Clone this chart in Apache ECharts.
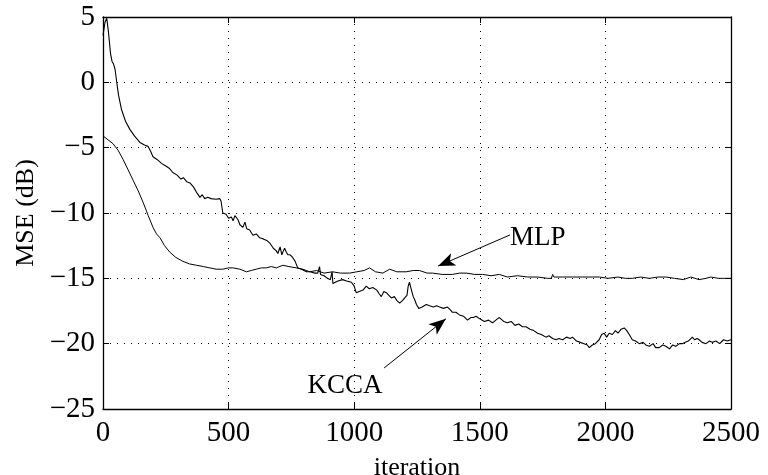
<!DOCTYPE html>
<html>
<head>
<meta charset="utf-8">
<script src="https://cdn.jsdelivr.net/npm/echarts@6/dist/echarts.min.js"></script>
<style>
html,body{margin:0;padding:0;background:#fff;}
#chart{width:768px;height:475px;}
</style>
</head>
<body>
<div id="chart"></div>
<script>
var xTicks = [0, 500, 1000, 1500, 2000, 2500];
var yTicks = [-25, -20, -15, -10, -5, 0, 5];
var xTitle = 'iteration';
var yTitle = 'MSE (dB)';

var kcca = [[0,3.6],[8,4.6],[15,4.9],[22,3.8],[30,2.2],[36,1.6],[42,1.4],[48,1.0],[54,0.1],[62,-1.0],[74,-2.1],[90,-3.0],[107,-3.6],[125,-4.1],[147,-4.6],[165,-4.8],[179,-4.9],[190,-5.3],[199,-5.7],[215,-5.9],[233,-6.2],[250,-6.4],[265,-6.6],[278,-6.9],[295,-7.1],[310,-7.4],[320,-7.3],[333,-7.6],[346,-7.7],[360,-8.0],[375,-8.5],[386,-8.8],[395,-8.6],[405,-8.9],[417,-8.8],[430,-8.9],[450,-8.95],[465,-8.9],[470,-9.1],[477,-10.0],[490,-10.1],[500,-10.4],[511,-10.3],[518,-10.6],[525,-10.2],[537,-10.5],[545,-10.9],[557,-11.1],[565,-10.7],[572,-11.2],[584,-11.3],[597,-11.7],[610,-11.6],[624,-11.9],[640,-12.0],[652,-12.1],[664,-12.3],[678,-12.7],[690,-12.9],[696,-13.1],[705,-12.6],[712,-13.2],[718,-12.9],[723,-12.7],[730,-13.0],[736,-13.2],[745,-13.2],[755,-13.4],[765,-13.7],[775,-14.2],[790,-14.3],[800,-14.4],[810,-14.5],[825,-14.5],[843,-14.6],[855,-14.6],[862,-14.1],[866,-14.7],[880,-14.8],[894,-15.0],[905,-15.1],[912,-14.5],[915,-15.4],[922,-15.3],[935,-15.2],[954,-15.1],[970,-15.2],[989,-15.3],[1000,-15.6],[1008,-16.1],[1020,-16.0],[1035,-15.9],[1048,-15.6],[1060,-15.8],[1074,-15.7],[1090,-15.9],[1100,-16.2],[1108,-16.4],[1118,-16.0],[1128,-16.1],[1138,-16.3],[1148,-16.5],[1160,-16.4],[1170,-16.7],[1181,-16.9],[1192,-16.7],[1201,-16.5],[1210,-16.3],[1215,-15.6],[1220,-15.3],[1228,-15.9],[1235,-16.4],[1240,-16.6],[1248,-17.0],[1257,-17.3],[1270,-17.2],[1287,-17.0],[1300,-17.1],[1315,-17.2],[1328,-17.1],[1340,-17.2],[1355,-17.3],[1371,-17.2],[1382,-17.4],[1391,-17.6],[1405,-17.6],[1419,-17.8],[1435,-17.9],[1451,-18.2],[1465,-18.0],[1475,-18.0],[1485,-17.9],[1500,-18.1],[1518,-18.3],[1535,-18.2],[1550,-18.4],[1558,-18.3],[1570,-18.1],[1578,-18.0],[1595,-18.3],[1610,-18.4],[1625,-18.3],[1640,-18.6],[1655,-18.5],[1670,-18.7],[1684,-18.7],[1700,-18.9],[1715,-19.0],[1730,-19.2],[1745,-19.3],[1763,-19.5],[1775,-19.4],[1790,-19.6],[1803,-19.7],[1815,-19.6],[1830,-19.7],[1845,-19.5],[1860,-19.6],[1869,-19.5],[1885,-19.8],[1900,-19.9],[1915,-20.0],[1928,-20.1],[1936,-20.3],[1948,-20.1],[1960,-20.0],[1975,-19.7],[1985,-19.3],[1995,-19.2],[2005,-19.5],[2015,-19.2],[2028,-19.3],[2040,-19.0],[2050,-19.2],[2062,-18.9],[2075,-18.8],[2085,-19.0],[2095,-19.3],[2107,-19.7],[2120,-19.8],[2135,-20.0],[2150,-19.9],[2161,-20.1],[2175,-20.2],[2190,-20.0],[2200,-20.3],[2214,-20.3],[2228,-20.1],[2241,-20.2],[2255,-20.4],[2268,-20.1],[2280,-20.2],[2295,-20.0],[2306,-20.0],[2318,-19.9],[2330,-19.8],[2346,-19.5],[2355,-19.7],[2365,-19.6],[2373,-19.7],[2385,-19.9],[2400,-20.0],[2415,-19.8],[2425,-19.9],[2440,-19.8],[2455,-20.0],[2470,-19.7],[2485,-19.8],[2500,-19.7]];

var mlp = [[0,-4.1],[20,-4.4],[40,-4.7],[60,-5.2],[80,-5.9],[100,-6.7],[120,-7.5],[140,-8.3],[160,-9.2],[180,-10.2],[199,-11.1],[213,-11.6],[227,-11.9],[245,-12.5],[266,-13.0],[290,-13.4],[318,-13.7],[345,-13.9],[372,-14.0],[400,-14.1],[425,-14.2],[450,-14.3],[477,-14.3],[500,-14.2],[517,-14.2],[545,-14.3],[571,-14.5],[590,-14.4],[610,-14.3],[630,-14.2],[650,-14.2],[670,-14.1],[690,-14.2],[716,-14.0],[740,-14.1],[770,-14.2],[795,-14.3],[823,-14.5],[850,-14.4],[880,-14.6],[914,-14.5],[945,-14.6],[982,-14.6],[1010,-14.5],[1040,-14.4],[1061,-14.2],[1085,-14.5],[1114,-14.6],[1141,-14.3],[1170,-14.5],[1207,-14.5],[1235,-14.4],[1260,-14.4],[1290,-14.6],[1312,-14.6],[1350,-14.7],[1391,-14.7],[1420,-14.6],[1446,-14.6],[1480,-14.7],[1511,-14.7],[1545,-14.8],[1578,-14.7],[1610,-14.9],[1650,-14.8],[1690,-14.9],[1730,-14.9],[1770,-15.0],[1785,-15.0],[1790,-14.7],[1795,-14.9],[1830,-14.9],[1870,-14.9],[1910,-14.9],[1950,-14.9],[1976,-14.9],[2010,-15.0],[2050,-14.9],[2080,-15.0],[2107,-15.0],[2140,-14.9],[2175,-15.0],[2210,-14.9],[2241,-14.9],[2275,-15.0],[2310,-15.1],[2340,-14.9],[2373,-15.1],[2400,-15.0],[2420,-14.9],[2450,-15.0],[2475,-15.0],[2500,-15.0]];

var mlpArrow = [[1620,-11.68],[1334,-14.06]];
var kccaArrow = [[1119,-21.86],[1365,-18.1]];
var mlpLabelPos = [1731,-11.9];
var kccaLabelPos = [963,-23.25];

var FONT = 'Liberation Serif';
var chart = echarts.init(document.getElementById('chart'), null, {renderer:'canvas'});

function minusFmt(v){ return v < 0 ? '\u2212' + Math.abs(v) : String(v); }
function plainFmt(v){ return String(v); }

var tickStyle = {show:true, inside:true, length:6, lineStyle:{color:'#000', width:1}};
var gridLine = {show:true, lineStyle:{color:'#000', width:1, type:[1,6]}};
var boxLine = {show:true, onZero:false, lineStyle:{color:'#000', width:1.3}};

var option = {
  backgroundColor:'#fff',
  animation:false,
  grid:{left:103, right:37, top:17, bottom:66, show:false, containLabel:false, outerBoundsMode:'none'},
  xAxis:[{
    type:'value', min:xTicks[0], max:xTicks[xTicks.length-1], interval:500,
    name:xTitle, nameLocation:'middle', nameGap:46,
    nameTextStyle:{fontFamily:FONT, fontSize:26, color:'#000'},
    axisLine:boxLine,
    axisTick:tickStyle,
    axisLabel:{fontFamily:FONT, fontSize:29, color:'#000', margin:10, formatter:plainFmt},
    splitLine:gridLine
  },{
    type:'value', position:'top', min:xTicks[0], max:xTicks[xTicks.length-1], interval:500,
    axisLine:boxLine,
    axisTick:tickStyle, axisLabel:{show:false}, splitLine:{show:false}
  }],
  yAxis:[{
    type:'value', min:yTicks[0], max:yTicks[yTicks.length-1], interval:5,
    name:yTitle, nameLocation:'middle', nameGap:62, nameRotate:90,
    nameTextStyle:{fontFamily:FONT, fontSize:26, color:'#000'},
    axisLine:boxLine,
    axisTick:tickStyle,
    axisLabel:{fontFamily:FONT, fontSize:29, color:'#000', margin:8, formatter:minusFmt},
    splitLine:gridLine
  },{
    type:'value', position:'right', min:yTicks[0], max:yTicks[yTicks.length-1], interval:5,
    axisLine:boxLine,
    axisTick:tickStyle, axisLabel:{show:false}, splitLine:{show:false}
  }],
  series:[{
    name:'KCCA', type:'line', data:kcca, showSymbol:false, symbol:'none',
    lineStyle:{color:'#000', width:1.1}, z:3,
    markLine:{
      silent:true, symbol:['none','arrow'], symbolSize:[10,17],
      lineStyle:{color:'#000', width:1, type:'solid'}, label:{show:false},
      data:[[{coord:kccaArrow[0]},{coord:kccaArrow[1]}]]
    },
    markPoint:{
      silent:true, symbol:'circle', symbolSize:1, itemStyle:{color:'rgba(0,0,0,0)'},
      label:{show:true, position:'inside', formatter:'KCCA', fontFamily:FONT, fontSize:27, color:'#000'},
      data:[{coord:kccaLabelPos}]
    }
  },{
    name:'MLP', type:'line', data:mlp, showSymbol:false, symbol:'none',
    lineStyle:{color:'#000', width:1}, z:3,
    markLine:{
      silent:true, symbol:['none','arrow'], symbolSize:[10,17],
      lineStyle:{color:'#000', width:1, type:'solid'}, label:{show:false},
      data:[[{coord:mlpArrow[0]},{coord:mlpArrow[1]}]]
    },
    markPoint:{
      silent:true, symbol:'circle', symbolSize:1, itemStyle:{color:'rgba(0,0,0,0)'},
      label:{show:true, position:'inside', formatter:'MLP', fontFamily:FONT, fontSize:27, color:'#000'},
      data:[{coord:mlpLabelPos}]
    }
  }]
};
chart.setOption(option);
</script>
</body>
</html>
